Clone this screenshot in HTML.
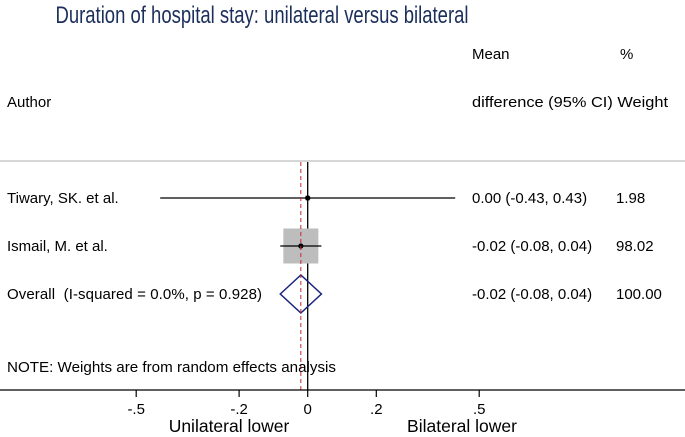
<!DOCTYPE html>
<html><head><meta charset="utf-8"><style>
html,body{margin:0;padding:0;background:#fff;}
svg{display:block;font-family:"Liberation Sans",Arial,sans-serif;}
</style></head><body>
<svg id="c" width="685" height="437" viewBox="0 0 685 437" xmlns="http://www.w3.org/2000/svg">
<rect width="685" height="437" fill="#fff"/>
<text x="262" y="23" text-anchor="middle" font-size="24" fill="#1c2f5c" textLength="413" lengthAdjust="spacingAndGlyphs">Duration of hospital stay: unilateral versus bilateral</text>
<text x="472" y="59" font-size="15" fill="#000">Mean</text>
<text x="620" y="59" font-size="15" fill="#000">%</text>
<text x="7" y="107" font-size="15" fill="#000">Author</text>
<text x="472" y="107" font-size="15" fill="#000" textLength="196" lengthAdjust="spacingAndGlyphs">difference (95% CI) Weight</text>
<line x1="0" y1="161" x2="685" y2="161" stroke="#c8c8c8" stroke-width="1.5"/>
<g id="plot"></g>
<text x="7" y="372" font-size="15" fill="#000" textLength="329" lengthAdjust="spacingAndGlyphs">NOTE: Weights are from random effects analysis</text>
</svg>
<script>
const studies = ["Tiwary, SK. et al.", "Ismail, M. et al."];
const estimates = [0.00, -0.02];
const lower = [-0.43, -0.08];
const upper = [0.43, 0.04];
const weights = [1.98, 98.02];
const ciLabels = ["0.00 (-0.43, 0.43)", "-0.02 (-0.08, 0.04)"];
const weightLabels = ["1.98", "98.02"];
const overallLabel = "Overall\u00a0 (I-squared = 0.0%, p = 0.928)";
const overall = [-0.02, -0.08, 0.04];
const overallCi = "-0.02 (-0.08, 0.04)";
const overallWeight = "100.00";
const ticks = [-0.5, -0.2, 0, 0.2, 0.5];
const tickLabels = ["-.5", "-.2", "0", ".2", ".5"];

const NS = "http://www.w3.org/2000/svg";
const g = document.getElementById("plot");
const xs = v => 307.7 + v * 343;
const rowY = i => 198 + i * 48;
function mk(tag, attrs, parent) {
  const e = document.createElementNS(NS, tag);
  for (const k in attrs) e.setAttribute(k, attrs[k]);
  (parent || g).appendChild(e);
  return e;
}
function txt(s, x, y, anchor) {
  const t = mk("text", {x: x, y: y, "font-size": 15, fill: "#000", "text-anchor": anchor || "start"});
  t.textContent = s;
  return t;
}
let e = mk("line", {x1: xs(0), y1: 162, x2: xs(0), y2: 390, stroke: "#000", "stroke-width": 1.3});


studies.forEach((s, i) => {
  const y = rowY(i);
  const side = Math.sqrt(weights[i] / 98.02) * 35;
  let b = mk("rect", {x: xs(estimates[i]) - side / 2, y: y - side / 2, width: side, height: side, fill: "#bdbdbd"});
  
  
  let l = mk("line", {x1: xs(lower[i]), y1: y, x2: xs(upper[i]), y2: y, stroke: "#000", "stroke-width": 1.3});
  
  
  let p = mk("circle", {cx: xs(estimates[i]), cy: y, r: 2.6, fill: "#000"});
  
  
  let a = txt(s, 7, y + 5);
  
  
  let c = txt(ciLabels[i], 472, y + 5);
  
  
  let w = txt(weightLabels[i], 616, y + 5);
  
  
});
const oy = rowY(2);
let d = mk("polygon", {points: `${xs(overall[1])},${oy} ${xs(overall[0])},${oy-19} ${xs(overall[2])},${oy} ${xs(overall[0])},${oy+19}`, fill: "none", stroke: "#1a237e", "stroke-width": 1.5});


let ol = txt(overallLabel, 7, oy + 5);
ol.setAttribute('textLength', '255');


let oc = txt(overallCi, 472, oy + 5);


let ow = txt(overallWeight, 616, oy + 5);


let dl = mk("line", {x1: xs(overall[0]), y1: 162, x2: xs(overall[0]), y2: 390, stroke: "#c0282d", "stroke-width": 1, "stroke-dasharray": "4,3"});


let ax = mk("line", {x1: 0, y1: 390, x2: 685, y2: 390, stroke: "#000", "stroke-width": 1.3});


ticks.forEach((t, i) => {
  let tk = mk("line", {x1: xs(t), y1: 390, x2: xs(t), y2: 397, stroke: "#000", "stroke-width": 1.2});
  
  
  let tl = txt(tickLabels[i], xs(t), 414, "middle");
  
  
});
let u = mk("text", {x: 229, y: 432, "font-size": 17.5, fill: "#000", "text-anchor": "middle"});
u.textContent = "Unilateral lower";


let bl = mk("text", {x: 462, y: 432, "font-size": 17.5, fill: "#000", "text-anchor": "middle"});
bl.textContent = "Bilateral lower";


</script>
</body></html>
